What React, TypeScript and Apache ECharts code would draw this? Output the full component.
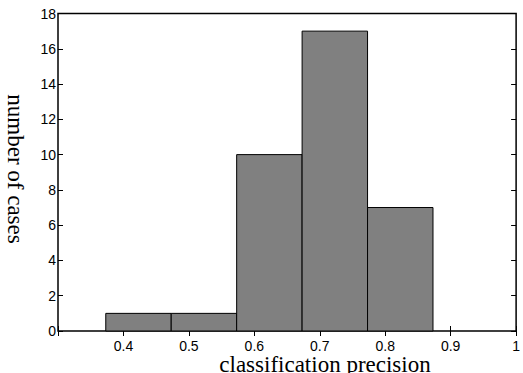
import React, { useEffect, useRef } from "react";
import * as echarts from "echarts";

const binStarts = [0.373, 0.473, 0.573, 0.673, 0.773];
const counts = [1, 1, 10, 17, 7];
const binWidth = 0.1;
const xTicks = ["0.4", "0.5", "0.6", "0.7", "0.8", "0.9", "1"];
const yTicks = [0, 2, 4, 6, 8, 10, 12, 14, 16, 18];

export default function App() {
  const ref = useRef<HTMLDivElement>(null);
  useEffect(() => {
    if (!ref.current) return;
    const chart = echarts.init(ref.current, null, { renderer: "svg" });
    const data = binStarts.map((s, i) => [s, s + binWidth, counts[i]]);
    const axisCommon = {
      type: "value" as const,
      axisLine: { show: false },
      splitLine: { show: false },
      axisTick: { show: true, inside: true, length: 5, lineStyle: { color: "#000", width: 1 } },
    };
    chart.setOption({
      animation: false,
      grid: {
        left: 58,
        right: 4,
        top: 13.5,
        bottom: 42,
        show: true,
        borderColor: "#000",
        borderWidth: 1.5,
        backgroundColor: "#fff",
      },
      xAxis: [
        {
          ...axisCommon,
          min: 0.3,
          max: 1,
          interval: 0.1,
          axisLabel: {
            color: "#000",
            fontFamily: "Liberation Sans",
            fontSize: 14,
            margin: 8,
            formatter: (v: number) => {
              const s = String(Math.round(v * 10) / 10);
              return xTicks.includes(s) ? s : "";
            },
          },
        },
        {
          ...axisCommon,
          position: "top",
          min: 0.3,
          max: 1,
          interval: 0.1,
          axisLabel: { show: false },
        },
      ],
      yAxis: [
        {
          ...axisCommon,
          min: 0,
          max: 18,
          interval: 2,
          axisLabel: {
            color: "#000",
            fontFamily: "Liberation Sans",
            fontSize: 14,
            margin: 2,
            formatter: (v: number) => (yTicks.includes(v) ? String(v) : ""),
          },
        },
        {
          ...axisCommon,
          position: "right",
          min: 0,
          max: 18,
          interval: 2,
          axisLabel: { show: false },
        },
      ],
      series: [
        {
          type: "custom",
          xAxisIndex: 0,
          yAxisIndex: 0,
          data,
          encode: { x: [0, 1], y: 2 },
          renderItem: (params: any, api: any) => {
            const p0 = api.coord([api.value(0), api.value(2)]);
            const p1 = api.coord([api.value(1), 0]);
            return {
              type: "rect",
              shape: { x: p0[0], y: p0[1], width: p1[0] - p0[0], height: p1[1] - p0[1] },
              style: { fill: "#808080", stroke: "#000", lineWidth: 1 },
            };
          },
        },
      ],
      graphic: [
        {
          type: "text",
          x: 325,
          y: 353,
          style: {
            text: "classification precision",
            font: "23px 'Liberation Serif'",
            fill: "#000",
            align: "center",
            verticalAlign: "top",
          },
        },
        {
          type: "text",
          x: 15,
          y: 169,
          rotation: -Math.PI / 2,
          style: {
            text: "number of cases",
            font: "23px 'Liberation Serif'",
            fill: "#000",
            align: "center",
            verticalAlign: "middle",
          },
        },
      ],
    });
    return () => chart.dispose();
  }, []);
  return <div ref={ref} style={{ width: 523, height: 373, position: "absolute", left: 0, top: 0 }} />;
}
